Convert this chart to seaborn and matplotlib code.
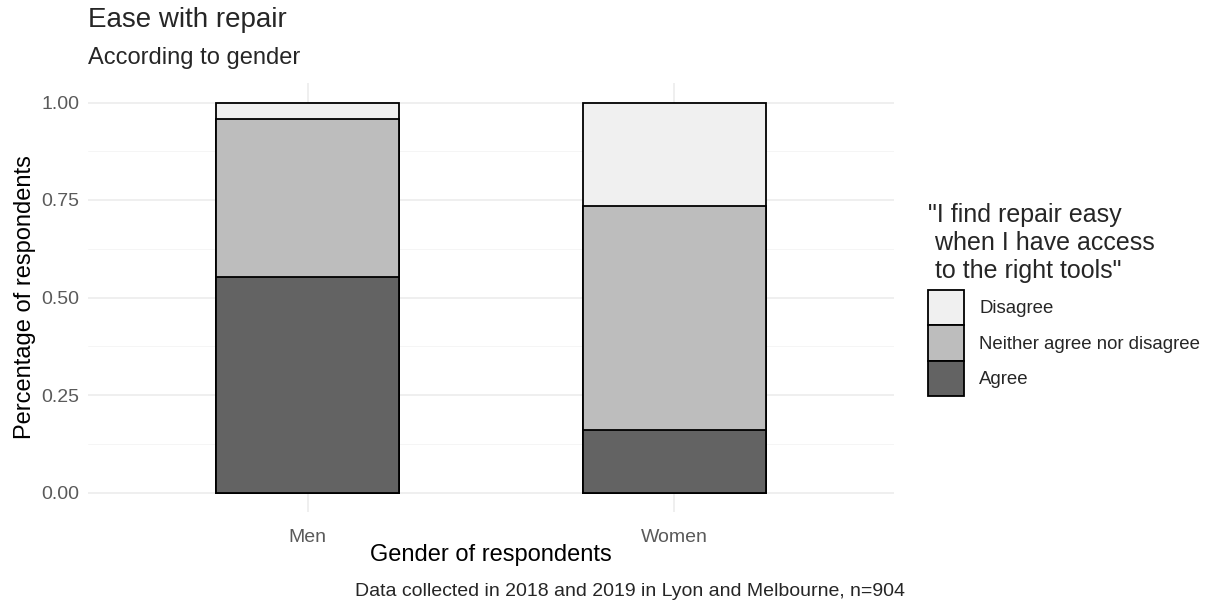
import pandas as pd
import seaborn as sns
import matplotlib.pyplot as plt
from matplotlib.patches import Patch
from matplotlib.ticker import MultipleLocator

genders = ['Men', 'Women']
agree = [0.552, 0.161]
neither = [0.405, 0.573]
disagree = [0.043, 0.266]
responses = ['Disagree', 'Neither agree nor disagree', 'Agree']
colors = {'Disagree': '#f0f0f0', 'Neither agree nor disagree': '#bdbdbd', 'Agree': '#636363'}

df = pd.DataFrame({'gender': genders, 'agree': agree, 'neither': neither, 'disagree': disagree})
# cumulative heights, drawn back to front
df['top_disagree'] = df['agree'] + df['neither'] + df['disagree']
df['top_neither'] = df['agree'] + df['neither']
df['top_agree'] = df['agree']

sns.set_style('whitegrid')
plt.rcParams['font.family'] = ['Liberation Sans', 'DejaVu Sans']

fig = plt.figure(figsize=(12.11, 6.03), dpi=100)
W, H = 1211, 603
ax = fig.add_axes([88 / W, 1 - 512 / H, (894 - 88) / W, (512 - 83) / H])

for col, resp in [('top_disagree', 'Disagree'), ('top_neither', 'Neither agree nor disagree'), ('top_agree', 'Agree')]:
    sns.barplot(data=df, x='gender', y=col, color=colors[resp], edgecolor='black',
                linewidth=1.3, width=0.5, saturation=1, ax=ax, zorder=3)

ax.set_xlim(-0.6, 1.6)
ax.set_ylim(-0.05, 1.05)
ax.yaxis.set_major_locator(MultipleLocator(0.25))
ax.yaxis.set_minor_locator(MultipleLocator(0.125))
ax.set_yticklabels([f'{v:.2f}' for v in ax.get_yticks()])
ax.grid(True, which='major', color='#ebebeb', linewidth=1.1)
ax.grid(True, which='minor', color='#f4f4f4', linewidth=0.6)
ax.set_axisbelow(True)
for s in ax.spines.values():
    s.set_visible(False)
ax.tick_params(axis='both', which='both', length=0, labelsize=14, labelcolor='#5a5a5a', pad=6)
ax.tick_params(axis='x', pad=12)

ax.set_xlabel('Gender of respondents', fontsize=17, color='black', labelpad=-1)
ax.set_ylabel('Percentage of respondents', fontsize=17, color='black', labelpad=4)

fig.text(88 / W, 1 - 20 / H, 'Ease with repair', fontsize=20, va='center', ha='left')
fig.text(88 / W, 1 - 58 / H, 'According to gender', fontsize=17, va='center', ha='left')
fig.text(905 / W, 1 - 591 / H, 'Data collected in 2018 and 2019 in Lyon and Melbourne, n=904',
         fontsize=14, va='center', ha='right')

handles = [Patch(facecolor=colors[r], edgecolor='black', linewidth=1.3, label=r) for r in responses]
leg = fig.legend(handles=handles, title='"I find repair easy\n when I have access\n to the right tools"',
                 loc='upper left', bbox_to_anchor=(921 / W, 1 - 196 / H), frameon=False,
                 fontsize=13.4, title_fontsize=18, handlelength=1.93, handleheight=2.55,
                 labelspacing=0.0, handletextpad=0.8, borderaxespad=0)
leg._legend_box.align = 'left'
leg._legend_box.sep = 5

fig.savefig('out.png', dpi=100)
